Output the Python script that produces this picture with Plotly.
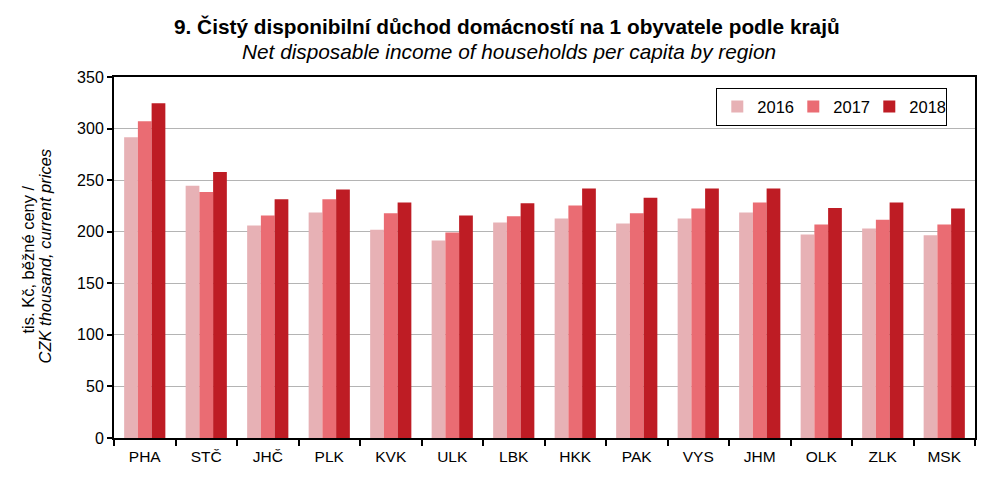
import plotly.graph_objects as go

regions = ["PHA", "STČ", "JHČ", "PLK", "KVK", "ULK", "LBK", "HKK", "PAK", "VYS", "JHM", "OLK", "ZLK", "MSK"]
years = ["2016", "2017", "2018"]
v2016 = [291.6, 244.5, 206.0, 218.7, 202.0, 191.5, 209.0, 212.9, 208.0, 212.9, 218.7, 197.4, 203.0, 196.5]
v2017 = [307.0, 238.6, 215.8, 231.4, 217.8, 199.3, 214.9, 225.5, 217.8, 222.6, 228.4, 207.0, 211.7, 207.0]
v2018 = [324.6, 258.0, 231.4, 241.0, 228.4, 215.8, 227.5, 242.0, 233.0, 242.0, 242.0, 223.0, 228.4, 222.6]
colors = ["#E7B1B5", "#EA6C73", "#BE1C24"]

title_text = "<b>9. Čistý disponibilní důchod domácností na 1 obyvatele podle krajů</b>"
subtitle_text = "<i>Net disposable income of households per capita by region</i>"
ytitle_1 = "tis. Kč, běžné ceny /"
ytitle_2 = "<i>CZK thousand, current prices</i>"

fig = go.Figure()
for name, vals, col in zip(years, [v2016, v2017, v2018], colors):
    fig.add_trace(go.Bar(x=regions, y=vals, name=name, marker=dict(color=col, line=dict(width=0))))

# plot area in reference pixels: x 114..975, y 76..438
PL, PR, PT, PB = 114, 975, 76, 438
def px(x):
    return (x - PL) / (PR - PL)
def py(y):
    return (PB - y) / (PB - PT)

font_family = "Liberation Sans, Arial, sans-serif"
fig.update_layout(
    width=996, height=474,
    margin=dict(l=106, r=29, t=69, b=44, autoexpand=False),
    paper_bgcolor="white", plot_bgcolor="white",
    barmode="group", bargap=0.33, bargroupgap=0,
    font=dict(family=font_family, size=15, color="black"),
    showlegend=True,
    legend=dict(orientation="h", x=px(716), y=py(87), xanchor="left", yanchor="top",
                bordercolor="black", borderwidth=1.3, bgcolor="white",
                font=dict(size=16.5), itemwidth=30, entrywidth=31, traceorder="normal"),
)
fig.add_annotation(text=title_text, xref="paper", yref="paper", x=px(507), y=py(25),
                   xanchor="center", yanchor="middle", showarrow=False, font=dict(size=20.8))
fig.add_annotation(text=subtitle_text, xref="paper", yref="paper", x=px(509), y=py(50),
                   xanchor="center", yanchor="middle", showarrow=False, font=dict(size=20.8))
fig.add_annotation(text=ytitle_1, xref="paper", yref="paper", x=px(28), y=py(259),
                   xanchor="center", yanchor="middle", showarrow=False, textangle=-90,
                   font=dict(size=16.5))
fig.add_annotation(text=ytitle_2, xref="paper", yref="paper", x=px(45), y=py(256),
                   xanchor="center", yanchor="middle", showarrow=False, textangle=-90,
                   font=dict(size=16.5))

fig.update_xaxes(showline=True, linecolor="black", linewidth=2, mirror=True,
                 ticks="outside", tickson="boundaries", ticklen=6, tickwidth=2, tickcolor="black",
                 tickfont=dict(size=15.5), ticklabelstandoff=3, showgrid=False)
fig.update_yaxes(range=[0, 350], dtick=50, showline=True, linecolor="black", linewidth=2, mirror=True,
                 ticks="outside", ticklen=5, tickwidth=2, tickcolor="black",
                 showgrid=True, gridcolor="#B4B4B4", gridwidth=1, zeroline=False,
                 tickfont=dict(size=16))

fig.write_html("out.html")
